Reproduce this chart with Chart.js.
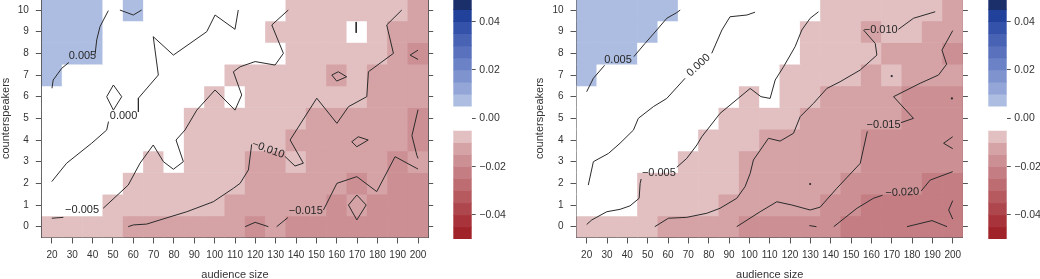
<!DOCTYPE html>
<html><head><meta charset="utf-8">
<script src="https://cdn.jsdelivr.net/npm/chart.js@4.4.0/dist/chart.umd.min.js"></script>
<style>
html,body{margin:0;padding:0;background:#fff;overflow:hidden;width:1040px;height:279px;position:relative;}
canvas{position:absolute;}
</style></head><body>
<canvas id="hmL" width="440" height="305" style="left:0px;top:-20px"></canvas>
<canvas id="cbL" width="80" height="305" style="left:440px;top:-20px"></canvas>
<canvas id="hmR" width="440" height="305" style="left:534px;top:-20px"></canvas>
<canvas id="cbR" width="65" height="305" style="left:975px;top:-20px"></canvas>
<script>
// ---------- data ----------
const audienceSize = [20,30,40,50,60,70,80,90,100,110,120,130,140,150,160,170,180,190,200];
const counterspeakers = [0,1,2,3,4,5,6,7,8,9,10];
const colorBreaks = [-0.05,-0.045,-0.04,-0.035,-0.03,-0.025,-0.02,-0.015,-0.01,-0.005,0.005,0.01,0.015,0.02,0.025,0.03,0.035,0.04,0.045,0.05];
const bandColors = ['#a1232a','#a8333a','#ae464d','#b65a60','#bd6c71','#c47d82','#cc8f93','#d5a2a5','#e2c0c2','#ffffff',
  '#adbde1','#93a6d7','#7f93ce','#6c82c6','#5a71bd','#4862b4','#3452a9','#22419a','#1b2f6b'];
const colorbarTicks = [-0.04,-0.02,0,0.02,0.04];

// cell values, rows = counterspeakers 0..10, columns = audience size 20..200
const leftValues = [
 [-0.008,-0.008,-0.008,-0.008,-0.012,-0.012,-0.012,-0.012,-0.012,-0.012,-0.017,-0.012,-0.017,-0.017,-0.017,-0.017,-0.017,-0.017,-0.017],
 [0,0,0,-0.008,-0.008,-0.008,-0.008,-0.008,-0.008,-0.012,-0.012,-0.012,-0.012,-0.012,-0.017,-0.012,-0.017,-0.017,-0.017],
 [0,0,0,0,-0.008,-0.008,-0.008,-0.008,-0.008,-0.008,-0.012,-0.012,-0.012,-0.012,-0.012,-0.017,-0.012,-0.017,-0.017],
 [0,0,0,0,0,-0.008,0,-0.008,-0.008,-0.008,-0.012,-0.012,-0.008,-0.012,-0.012,-0.012,-0.012,-0.017,-0.012],
 [0,0,0,0,0,0,0,-0.008,-0.008,-0.008,-0.008,-0.008,-0.012,-0.012,-0.012,-0.012,-0.012,-0.012,-0.017],
 [0,0,0,0,0,0,0,-0.008,-0.008,-0.008,-0.008,-0.008,-0.008,-0.012,-0.012,-0.012,-0.012,-0.012,-0.017],
 [0,0,0,0,0,0,0,0,-0.008,0,-0.008,-0.008,-0.008,-0.008,-0.008,-0.008,-0.012,-0.012,-0.012],
 [0.008,0,0,0,0,0,0,0,0,-0.008,-0.008,-0.008,-0.008,-0.008,-0.012,-0.008,-0.012,-0.012,-0.012],
 [0.008,0.008,0.008,0,0,0,0,0,0,0,0,0,-0.008,-0.008,-0.008,-0.008,-0.008,-0.012,-0.017],
 [0.008,0.008,0.008,0,0,0,0,0,0,0,0,-0.008,-0.008,-0.008,-0.008,0,-0.008,-0.012,-0.012],
 [0.008,0.008,0.008,0,0.008,0,0,0,0,0,0,0,-0.008,-0.008,-0.008,-0.008,-0.008,-0.008,-0.012]
];
const rightValues = [
 [-0.008,-0.008,-0.008,-0.008,-0.012,-0.012,-0.012,-0.012,-0.017,-0.017,-0.017,-0.017,-0.017,-0.022,-0.022,-0.022,-0.022,-0.022,-0.022],
 [0,0,0,-0.008,-0.008,-0.008,-0.008,-0.012,-0.012,-0.012,-0.012,-0.012,-0.017,-0.017,-0.022,-0.022,-0.022,-0.022,-0.022],
 [0,0,0,-0.008,-0.008,-0.008,-0.008,-0.008,-0.012,-0.012,-0.012,-0.012,-0.012,-0.017,-0.017,-0.017,-0.017,-0.022,-0.022],
 [0,0,0,0,0,-0.008,-0.008,-0.008,-0.012,-0.012,-0.012,-0.012,-0.012,-0.012,-0.017,-0.017,-0.017,-0.017,-0.017],
 [0,0,0,0,0,0,-0.008,-0.008,-0.008,-0.012,-0.012,-0.012,-0.012,-0.012,-0.017,-0.017,-0.017,-0.017,-0.017],
 [0,0,0,0,0,0,0,-0.008,-0.008,-0.008,-0.008,-0.012,-0.012,-0.012,-0.012,-0.012,-0.017,-0.017,-0.017],
 [0,0,0,0,0,0,0,0,-0.008,0,-0.008,-0.008,-0.012,-0.012,-0.012,-0.012,-0.017,-0.017,-0.017],
 [0.008,0,0,0,0,0,0,0,0,0,-0.008,-0.008,-0.008,-0.008,-0.012,-0.008,-0.012,-0.012,-0.012],
 [0.008,0.008,0.008,0,0,0,0,0,0,0,0,-0.008,-0.008,-0.008,-0.008,-0.012,-0.012,-0.012,-0.017],
 [0.008,0.008,0.008,0.008,0,0,0,0,0,0,0,-0.008,-0.008,-0.008,-0.012,-0.008,-0.008,-0.012,-0.012],
 [0.008,0.008,0.008,0.008,0.008,0,0,0,0,0,0,0,-0.008,-0.008,-0.008,-0.008,-0.008,-0.008,-0.012]
];

// contour lines (audience size, counterspeakers); null = break for a label
const leftContours = [
 [[20,6.39],[20.6,6.77],[24.8,7.31],[28.3,7.58],null,[41.2,7.95],[42,8.62],[43.6,9.23],[47.7,9.97]],
 [[53.4,10],[60,9.77],[64.1,10]],
 [[111.6,10],[110,9.11],[100.2,9.77],[96.1,9.0],[79.7,7.92],[69.8,8.77],[72.3,7.0],[62.5,5.93],[62.5,5.3],null,[47.8,4.85],[46.9,4.46],[39.5,3.85],[27.2,2.93],[19.9,2.08]],
 [[46.9,6],[50.2,6.54],[54.3,6],[50.2,5.38],[46.9,6]],
 [[136.2,10],[128.1,9.31],[133.8,8.0],[129.7,7.46],[119.9,7.62],[112.5,7.38],[109.2,7.15],[113.3,6.08],[110,5.38],[100.2,6.31],[91.2,5.38],[85.4,4.46],[81,4.0],[84.6,3.0],[79.7,2.65],[74.8,3.0],[69.8,3.77],[63.3,2.93],[57.5,1.92],[45.2,0.85],null,[25.6,0.43],[19.9,0.39]],
 [[169.6,9.45],[169.6,8.95]],
 [[192,10],[184.6,9.31],[187.9,8.0],[175.6,7.15],[174.8,6.0],[165.8,5.54],[160.1,4.77],[150.2,5.93],[137.1,4.0],[143.6,2.93],[139.5,2.8],[134.5,3.25],null,[118.2,3.8],[116.6,2.62],[112.5,2.0],[109.2,1.77],[99.3,1.15],[86.3,0.69],[73.1,0.31],[66.6,0.12],[60,0.08],[57.5,0]],
 [[157.6,7.0],[160.8,7.15],[164.9,6.92],[160,6.72],[157.6,7.0]],
 [[167.4,3.92],[170.6,4.15],[175.5,4.0],[169.9,3.69],[167.4,3.92]],
 [[130.5,0],[136,0.42],null,[153.5,0.77],[160.1,2.0],[169.9,2.31],[179.7,1.62],[188.7,3.23],[199.4,2.69],[200,2.66]],
 [[200,5.4],[197,4.2],[199.4,3.3],[200,3.15]],
 [[200,8.15],[196.1,7.92],[200,7.72]],
 [[165.8,1],[169.9,1.46],[174.5,1],[169.9,0.31],[165.8,1]],
 [[115,0],[119.9,0.2],[126.4,0]]
];
const rightContours = [
 [[20,6.23],[23.3,6.85],[28.2,7.38],[28.8,7.45],null,[43.2,7.85],[48.7,8.46],[54.5,9.08],[59.4,9.62],[64.3,9.88],[66,10]],
 [[102.8,9.9],[98.8,9.77],[90.5,9.69],[86.5,9.08],[81.5,8.0],null,[68.4,6.85],[59.4,5.92],[52.8,5.54],[45.4,5.0],[43,4.46],[36.4,3.85],[30.7,3.38],[23.3,3.0],[20.8,1.92]],
 [[134,9.92],[129.9,9.62],[125.8,9.08],[122.5,8.31],[116.8,7.38],[112.7,6.77],[110.2,5.92],[105.7,6.0],[100.4,6.38],[85.6,5.23],[76.6,4.15],[74.2,3.77],[69.2,3.15],[64.3,2.74],null,[46.8,2.2],[46.3,2.0],[45.8,1.31],[41.3,0.96],[36.4,0.8],[29.9,0.69],[22.5,0.31],[20,0.1]],
 [[191.4,9.92],[180.7,9.62],[173.3,9.11],null,[156.1,9.08],[161.9,8.46],[162.7,7.92],[154.5,7.23],[144.6,6.69],[138.1,6.38],[131.5,5.69],[125,5.08],[121.7,4.31],[115.1,3.95],[109.4,4.08],[102,3.08],[100.4,2.46],[97.9,1.85],[93.8,1.31],[85.6,0.85],[79.1,0.62],[69.2,0.43],[60.2,0.39],[53.5,0]],
 [[93.8,0],[105.3,0.69],[113.5,1.15],[120.9,1.0],[129.9,0.77],[134.8,0.9],[143,1.77],[154.5,2.92],[158,4.4],null,[174.5,4.8],[180.7,5.0],[170.9,6.0],[184,6.62],[193,7.0],[197,7.5],[194.7,8.15],[200,9.05]],
 [[141.5,0],[152.9,0.85],[161,1.31],[165.5,1.45],null,[184.5,1.65],[188.9,2.15],[200,2.54]],
 [[177.5,0],[189.8,0.28],[197.2,0]],
 [[200,4.15],[195.5,3.85],[200,3.6]],
 [[200,1.2],[198,0.77],[200,0.35]],
 [[129.5,0.05],[133,0]]
];
const rightSpecks = [[129.9,1.97],[170,6.95],[199.6,5.92]];

// contour labels
const leftLabelText  = ['0.005','0.000','\u22120.005','\u22120.010','\u22120.015'];
const leftLabelX     = [35, 55.2, 34.8, 126.3, 144.8];
const leftLabelY     = [7.9, 5.1, 0.78, 3.56, 0.72];
const leftLabelAngle = [0, 0, 0, 20, 0];
const rightLabelText  = ['0.005','0.000','\u22120.005','\u22120.010','\u22120.015','\u22120.020'];
const rightLabelX     = [35.4, 75, 55.5, 164.6, 166, 175.2];
const rightLabelY     = [7.7, 7.45, 2.5, 9.1, 4.7, 1.58];
const rightLabelAngle = [0, -43, 0, 0, 0, -3];

// ---------- drawing ----------
Chart.defaults.font.family = '"Liberation Sans", Arial, Helvetica, sans-serif';
Chart.defaults.color = '#333';

function colorFor(v) {
  for (let k = 0; k < bandColors.length; k++) if (v < colorBreaks[k + 1]) return bandColors[k];
  return bandColors[bandColors.length - 1];
}
const minus = s => s.replace('-', '\u2212');

const contourLabelPlugin = {
  id: 'contourLabels',
  afterDatasetsDraw(chart, args, opts) {
    const {ctx} = chart; const xs = chart.scales.x, ys = chart.scales.y;
    ctx.save();
    ctx.beginPath(); ctx.rect(chart.chartArea.left, chart.chartArea.top, chart.chartArea.width, chart.chartArea.height); ctx.clip();
    ctx.font = '11px "Liberation Sans", Arial, sans-serif';
    ctx.fillStyle = '#262626'; ctx.textAlign = 'center'; ctx.textBaseline = 'middle';
    opts.text.forEach((t, i) => {
      ctx.save();
      ctx.translate(xs.getPixelForValue(opts.x[i]), ys.getPixelForValue(opts.y[i]));
      ctx.rotate(opts.angle[i] * Math.PI / 180);
      ctx.fillText(t, 0, 0);
      ctx.restore();
    });
    ctx.restore();
  }
};

function makeHeatmap(id, values, contours, specks, lab, g) {
  const cells = [];
  values.forEach((row, r) => row.forEach((v, c) => {
    cells.push({x: audienceSize[c], y: [counterspeakers[r] - 0.5, counterspeakers[r] + 0.5], v});
  }));
  const datasets = [{
    type: 'bar', data: cells, order: 10,
    backgroundColor: ctx => colorFor(ctx.raw ? ctx.raw.v : 0),
    borderWidth: 0, barPercentage: 1, categoryPercentage: 1
  }];
  contours.forEach(line => datasets.push({
    type: 'line', order: 0,
    data: line.map(p => p ? {x: p[0], y: p[1]} : {x: null, y: null}),
    borderColor: '#2b2b2b', borderWidth: 1, pointRadius: 0, tension: 0, fill: false, spanGaps: false
  }));
  if (specks.length) datasets.push({
    type: 'line', order: 0, showLine: false,
    data: specks.map(p => ({x: p[0], y: p[1]})),
    pointRadius: 1.1, pointBackgroundColor: '#2b2b2b', pointBorderWidth: 0
  });
  const tickSet = arr => s => { s.ticks = arr.map(v => ({value: v})); };
  const axisGrid = len => ({display: true, drawOnChartArea: false, drawTicks: true, tickLength: len, color: '#555', lineWidth: 1, offset: false});
  new Chart(document.getElementById(id), {
    type: 'bar',
    data: {datasets},
    plugins: [contourLabelPlugin],
    options: {
      responsive: false, animation: false, events: [],
      layout: {padding: {left: 0, top: 19.2, right: g.padRight, bottom: 0}},
      plugins: {legend: {display: false}, tooltip: {enabled: false}, contourLabels: lab},
      scales: {
        x: {type: 'linear', position: 'bottom', min: 15, max: 205, offset: false,
            afterBuildTicks: tickSet(audienceSize), afterFit: s => { s.height = 47.5; },
            ticks: {autoSkip: false, maxRotation: 0, minRotation: 0, padding: 6, font: {size: 10}, color: '#333'},
            grid: axisGrid(6), border: {display: true, color: '#555', width: 1},
            title: {display: true, text: 'audience size', font: {size: 11, lineHeight: 1.2}, color: '#333', padding: {top: 0, bottom: 3}}},
        y: {type: 'linear', position: 'left', min: -0.5, max: 10.5, beginAtZero: false,
            afterBuildTicks: tickSet(counterspeakers), afterFit: s => { s.width = g.yWidth; },
            ticks: {autoSkip: false, padding: 7, font: {size: 10}, color: '#333'},
            grid: axisGrid(6), border: {display: true, color: '#555', width: 1},
            title: {display: true, text: 'counterspeakers', font: {size: 11, lineHeight: 1}, color: '#333', padding: {top: g.titlePad, bottom: 0}}},
        y2: {type: 'linear', position: 'right', min: -0.5, max: 10.5, beginAtZero: false,
            afterBuildTicks: tickSet(counterspeakers), afterFit: s => { s.width = 6; },
            ticks: {display: false},
            grid: axisGrid(5), border: {display: true, color: '#555', width: 1}}
      }
    }
  });
}

function makeColorbar(id, padLeft, axisWidth) {
  const bands = colorBreaks.slice(0, -1).map((lo, k) => ({x: 'cb', y: [lo, colorBreaks[k + 1]]}));
  new Chart(document.getElementById(id), {
    type: 'bar',
    data: {labels: ['cb'], datasets: [{data: bands, backgroundColor: bandColors, borderWidth: 0, barPercentage: 1, categoryPercentage: 1}]},
    options: {
      responsive: false, animation: false, events: [],
      layout: {padding: {left: padLeft, top: 17.5, right: 0, bottom: 45.9}},
      plugins: {legend: {display: false}, tooltip: {enabled: false}},
      scales: {
        x: {display: false},
        y: {position: 'right', min: -0.05, max: 0.05, beginAtZero: false,
            afterBuildTicks: s => { s.ticks = colorbarTicks.map(v => ({value: v})); },
            afterFit: s => { s.width = axisWidth; },
            ticks: {padding: 3.6, font: {size: 10.5}, color: '#333', callback: v => minus(Number(v).toFixed(2))},
            grid: {display: true, drawOnChartArea: false, drawTicks: true, tickLength: 4, color: '#555'},
            border: {display: false}}
      }
    }
  });
}

makeHeatmap('hmL', leftValues, leftContours, [],
  {text: leftLabelText, x: leftLabelX, y: leftLabelY, angle: leftLabelAngle},
  {yWidth: 41.8, padRight: 5.8, titlePad: 0});
makeHeatmap('hmR', rightValues, rightContours, rightSpecks,
  {text: rightLabelText, x: rightLabelX, y: rightLabelY, angle: rightLabelAngle},
  {yWidth: 42.5, padRight: 5.1, titlePad: 0.5});
makeColorbar('cbL', 13.3, 48.3);
makeColorbar('cbR', 13.3, 33.3);
</script>
</body></html>
